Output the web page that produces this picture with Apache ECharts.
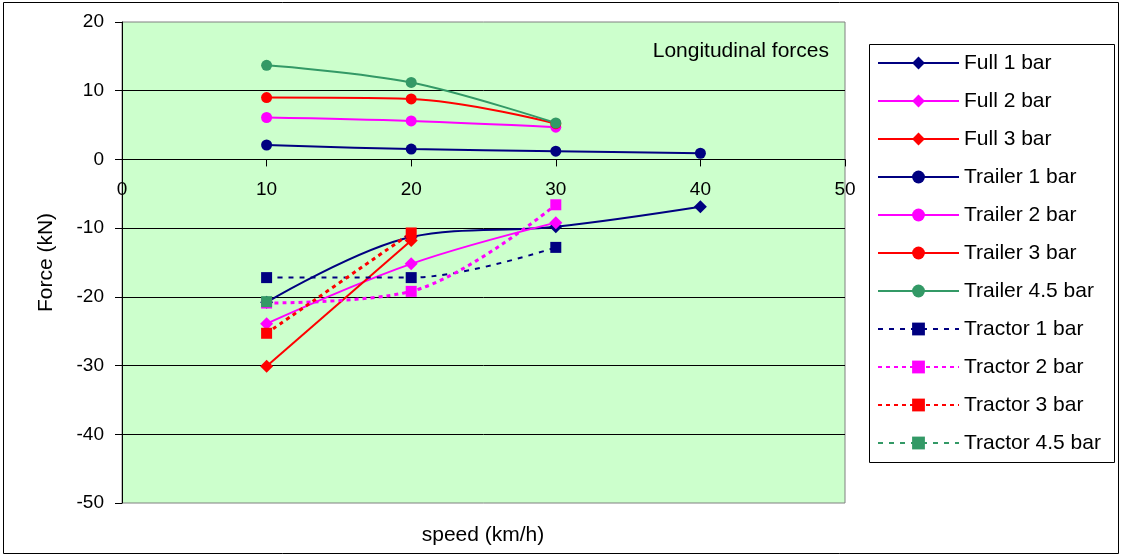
<!DOCTYPE html>
<html>
<head>
<meta charset="utf-8">
<script src="https://cdn.jsdelivr.net/npm/echarts@6/dist/echarts.min.js"></script>
<style>
  html, body { margin: 0; padding: 0; background: #fff; }
  #chart { width: 1122px; height: 559px; }
</style>
</head>
<body>
<div id="chart"></div>
<script>
// speeds (km/h) and forces (kN)
var speeds = [10, 20, 30, 40];
var full1 = [-20.8, -11.3, -9.8, -6.9];
var full2 = [-23.9, -15.2, -9.2];
var full3 = [-30.1, -11.8];
var trailer1 = [2.1, 1.5, 1.2, 0.9];
var trailer2 = [6.1, 5.6, 4.7];
var trailer3 = [9.0, 8.8, 5.2];
var trailer45 = [13.7, 11.2, 5.3];
var tractor1 = [-17.2, -17.2, -12.8];
var tractor2 = [-20.9, -19.2, -6.6];
var tractor3 = [-25.3, -10.7];
var tractor45 = [-20.7];
var yMin = -50, yMax = 20;

var chartDom = document.getElementById("chart");
var myChart = echarts.init(chartDom);

// plot box
var gridTop = 22, gridBottom = 56;
var plotH = 559 - gridTop - gridBottom;
// move the x axis up so it sits on force = 0
var xOffset = -plotH * (0 - yMin) / (yMax - yMin);

function pairs(vals) {
  return vals.map(function (v, i) { return [speeds[i], v]; });
}

// one line series
function makeSeries(name, vals, color, symbol, size, dash, width) {
  return {
    name: name,
    type: "line",
    data: pairs(vals),
    smooth: 0.35,
    symbol: symbol,
    symbolSize: size,
    showAllSymbol: true,
    itemStyle: { color: color, opacity: 1 },
    lineStyle: { color: color, width: width, type: dash },
    emphasis: { disabled: true },
    animation: false,
  };
}

var font = "Liberation Sans, Arial, sans-serif";

var option = {
  textStyle: { fontFamily: font, color: "#000" },
  title: {
    text: "Longitudinal forces",
    right: 288,
    top: 36,
    textStyle: { fontSize: 21, fontWeight: "normal", color: "#000", fontFamily: font },
  },
  grid: {
    left: 122,
    top: gridTop,
    right: 277,
    bottom: gridBottom,
    show: true,
    backgroundColor: "#CCFFCC",
    borderColor: "#808080",
    borderWidth: 1,
  },
  legend: {
    orient: "vertical",
    left: 877,
    top: 52,
    padding: 0,
    itemWidth: 81,
    itemHeight: 16,
    itemGap: 16,
    textStyle: { fontSize: 21, lineHeight: 22, color: "#000", fontFamily: font },
    selectedMode: false,
  },
  xAxis: {
    type: "value",
    min: 0,
    max: 50,
    interval: 10,
    position: "bottom",
    offset: xOffset,
    axisLine: { onZero: false, lineStyle: { color: "#000", width: 1 } },
    axisTick: { show: true, length: 7, lineStyle: { color: "#000" } },
    axisLabel: { fontSize: 19, color: "#000", margin: 21 },
    splitLine: { show: false },
  },
  yAxis: {
    type: "value",
    min: yMin,
    max: yMax,
    interval: 10,
    name: "Force (kN)",
    nameLocation: "middle",
    nameRotate: 90,
    nameGap: 65,
    nameTextStyle: { fontSize: 21, color: "#000", fontFamily: font },
    axisLine: { show: true, lineStyle: { color: "#000", width: 1 } },
    axisTick: { show: true, length: 7, lineStyle: { color: "#000" } },
    axisLabel: { fontSize: 19, color: "#000", margin: 18 },
    splitLine: {
      show: true,
      showMinLine: false,
      showMaxLine: false,
      lineStyle: { color: "#000", width: 1 },
    },
  },
  graphic: [
    {
      type: "rect",
      shape: { x: 3.5, y: 2.5, width: 1115, height: 551 },
      style: { fill: null, stroke: "#000", lineWidth: 1 },
      z: -10,
    },
    {
      type: "rect",
      shape: { x: 869.5, y: 44.5, width: 245, height: 418 },
      style: { fill: "#fff", stroke: "#000", lineWidth: 1 },
      z: -5,
    },
    {
      type: "text",
      x: 483,
      y: 535,
      style: {
        text: "speed (km/h)",
        fontSize: 21,
        fontFamily: font,
        fill: "#000",
        align: "center",
        verticalAlign: "middle",
      },
    },
  ],
  series: [
    makeSeries("Full 1 bar", full1, "#000080", "diamond", 13, "solid", 2),
    makeSeries("Full 2 bar", full2, "#FF00FF", "diamond", 13, "solid", 2),
    makeSeries("Full 3 bar", full3, "#FF0000", "diamond", 13, "solid", 2),
    makeSeries("Trailer 1 bar", trailer1, "#000080", "circle", 11, "solid", 2),
    makeSeries("Trailer 2 bar", trailer2, "#FF00FF", "circle", 11, "solid", 2),
    makeSeries("Trailer 3 bar", trailer3, "#FF0000", "circle", 11, "solid", 2),
    makeSeries("Trailer 4.5 bar", trailer45, "#339966", "circle", 11, "solid", 2),
    makeSeries("Tractor 1 bar", tractor1, "#000080", "rect", 11, [5, 6], 2),
    makeSeries("Tractor 2 bar", tractor2, "#FF00FF", "rect", 11, [4, 4], 3),
    makeSeries("Tractor 3 bar", tractor3, "#FF0000", "rect", 11, [4, 4], 3),
    makeSeries("Tractor 4.5 bar", tractor45, "#339966", "rect", 11, [5, 6], 2),
  ],
};
myChart.setOption(option);
</script>
</body>
</html>
